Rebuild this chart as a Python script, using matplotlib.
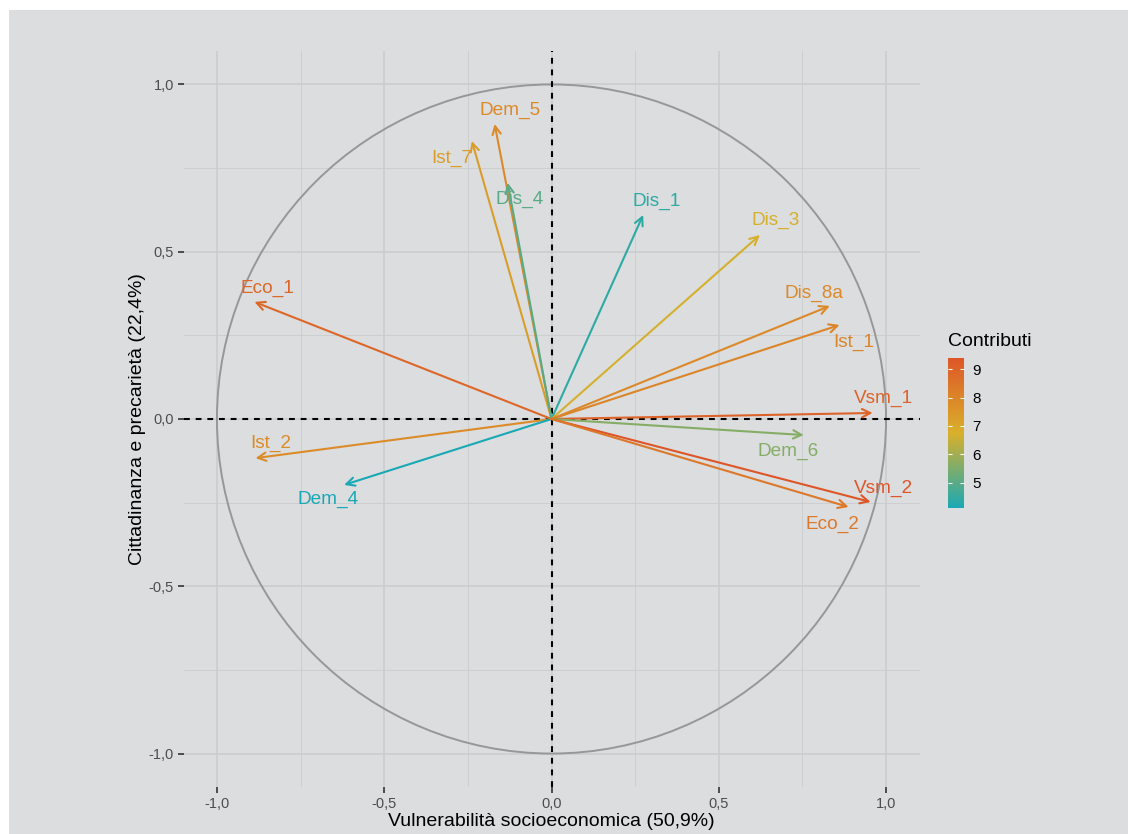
import matplotlib
matplotlib.use("Agg")
import matplotlib.pyplot as plt
import numpy as np
from matplotlib.colors import LinearSegmentedColormap, Normalize
from matplotlib.patches import Circle, Rectangle
import matplotlib.cm as cm

plt.rcParams['font.family'] = ['Liberation Sans', 'DejaVu Sans']

# ---- data ----
variables = ["Eco_1", "Ist_2", "Dem_4", "Ist_7", "Dem_5", "Dis_4", "Dis_1",
             "Dis_3", "Dis_8a", "Ist_1", "Vsm_1", "Dem_6", "Vsm_2", "Eco_2"]
dim1 = [-0.888, -0.885, -0.620, -0.238, -0.170, -0.131, 0.274,
        0.623, 0.832, 0.861, 0.960, 0.754, 0.954, 0.888]
dim2 = [0.350, -0.117, -0.197, 0.831, 0.882, 0.706, 0.610,
        0.550, 0.338, 0.281, 0.018, -0.048, -0.248, -0.263]
contrib = [8.9, 7.8, 4.1, 7.3, 7.9, 5.0, 4.4,
           6.7, 7.9, 8.0, 9.0, 5.6, 9.4, 8.4]
tick_vals = [-1.0, -0.5, 0.0, 0.5, 1.0]
tick_labels = ["-1,0", "-0,5", "0,0", "0,5", "1,0"]
cbar_ticks = [5, 6, 7, 8, 9]
xlabel = "Vulnerabilità socioeconomica (50,9%)"
ylabel = "Cittadinanza e precarietà (22,4%)"
legend_title = "Contributi"

# label offsets (pixels) relative to arrow tips (repelled labels)
label_offsets = {
    "Eco_1": (13, 14), "Ist_2": (15, 15), "Dem_4": (-16, -15),
    "Ist_7": (-20, -17), "Dem_5": (15, 14), "Dis_4": (12, -17),
    "Dis_1": (14, 14), "Dis_3": (16, 15), "Dis_8a": (-16, 13),
    "Ist_1": (14, -17), "Vsm_1": (11, 15), "Dem_6": (-16, -16),
    "Vsm_2": (13, 14), "Eco_2": (-16, -17),
}

BG = "#DCDDDF"
GRID = "#CBCCCE"

fig = plt.figure(figsize=(11.28, 8.34), dpi=100)
fig.patch.set_facecolor(BG)
# white margins at top and left (as in the reference scan)
fig.add_artist(Rectangle((0, 1 - 10 / 834), 1, 10 / 834, transform=fig.transFigure,
                         facecolor="white", edgecolor="none", zorder=0))
fig.add_artist(Rectangle((0, 0), 9 / 1128, 1, transform=fig.transFigure,
                         facecolor="white", edgecolor="none", zorder=0))

ax = fig.add_axes([183 / 1128, 1 - 787 / 834, 737 / 1128, 736 / 834])
ax.set_facecolor(BG)
ax.set_xlim(-1.1, 1.1)
ax.set_ylim(-1.1, 1.1)
ax.set_aspect("equal", adjustable="box")
for s in ax.spines.values():
    s.set_visible(False)

# grid
ax.set_xticks(tick_vals)
ax.set_yticks(tick_vals)
ax.set_xticks([-0.75, -0.25, 0.25, 0.75], minor=True)
ax.set_yticks([-0.75, -0.25, 0.25, 0.75], minor=True)
ax.grid(True, which="major", color=GRID, lw=1.1, zorder=0)
ax.grid(True, which="minor", color=GRID, lw=0.6, zorder=0)
ax.set_axisbelow(True)
ax.set_xticklabels(tick_labels)
ax.set_yticklabels(tick_labels)
ax.tick_params(which="major", length=4, width=1.2, color="#333333",
               labelsize=10.5, labelcolor="#4D4D4D", pad=3)
ax.tick_params(which="minor", length=0)

# circle
ax.add_patch(Circle((0, 0), 1.0, fill=False, edgecolor="#979797", lw=1.4, zorder=2))

# dashed axes
ax.axhline(0, color="black", lw=1.5, ls=(0, (2.8, 2.8)), zorder=2)
ax.axvline(0, color="black", lw=1.5, ls=(0, (2.8, 2.8)), zorder=2)

cmap = LinearSegmentedColormap.from_list("contrib", ["#19A9B4", "#D9B02A", "#DE5628"])
norm = Normalize(vmin=min(contrib), vmax=max(contrib))

for name, x, y, c in zip(variables, dim1, dim2, contrib):
    col = cmap(norm(c))
    ax.annotate("", xy=(x, y), xytext=(0, 0),
                arrowprops=dict(arrowstyle="->,head_length=0.6,head_width=0.3",
                                color=col, lw=1.5, shrinkA=0, shrinkB=0),
                zorder=3)
    dx, dy = label_offsets[name]
    ax.annotate(name, xy=(x, y), xytext=(dx, dy), textcoords="offset pixels",
                ha="center", va="center", fontsize=13.7, color=col, zorder=4)

ax.set_xlabel(xlabel, fontsize=14, color="black", labelpad=2)
ax.set_ylabel(ylabel, fontsize=14, color="black", labelpad=2)

# colorbar
cax = fig.add_axes([948 / 1128, 1 - 508 / 834, 16 / 1128, 150 / 834])
sm = cm.ScalarMappable(norm=norm, cmap=cmap)
cb = fig.colorbar(sm, cax=cax, ticks=cbar_ticks)
cb.outline.set_visible(False)
cb.ax.tick_params(direction="in", color="white", length=3, width=0.8,
                  left=True, right=True, labelsize=11, labelcolor="black", pad=6)
fig.text(948 / 1128, 1 - 341 / 834, legend_title, fontsize=14, ha="left", va="center")

fig.savefig("out.png", dpi=100, facecolor=fig.get_facecolor())
